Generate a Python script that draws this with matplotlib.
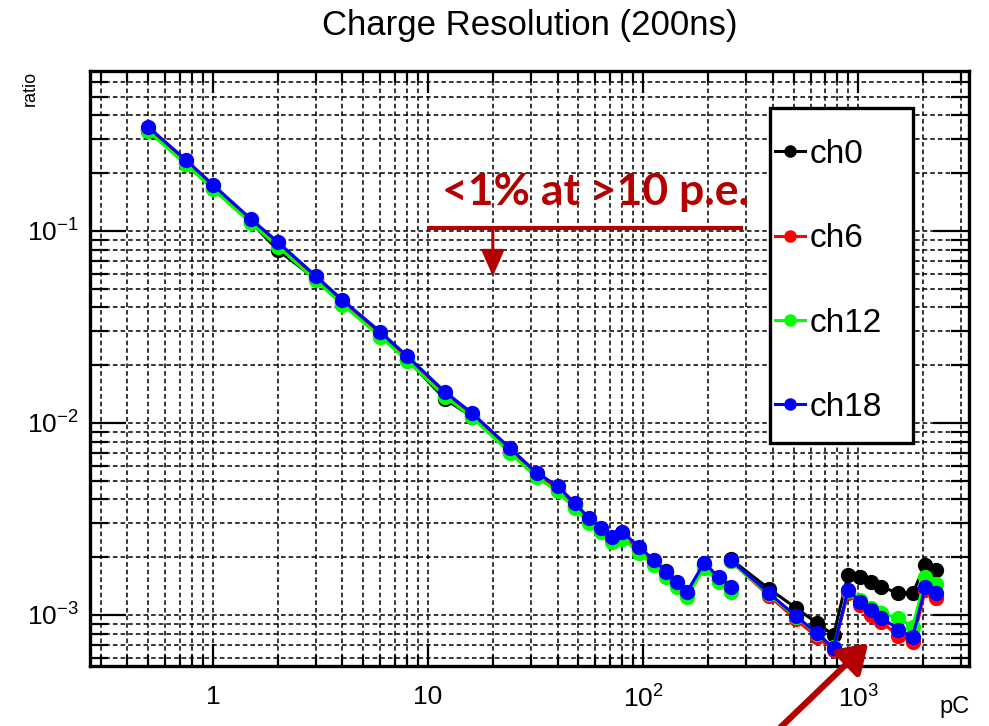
import matplotlib

matplotlib.use("Agg")
import matplotlib.pyplot as plt
import matplotlib.patches as mpatches
from matplotlib.lines import Line2D
from matplotlib.ticker import LogLocator, NullFormatter

plt.rcParams["font.family"] = ["Liberation Sans", "DejaVu Sans"]
plt.rcParams["mathtext.fontset"] = "custom"
plt.rcParams["mathtext.rm"] = "Liberation Sans"
plt.rcParams["mathtext.it"] = "Liberation Sans:italic"

# ── Data (charge in pC, resolution ratio) ────────────────────────────────────
# low range (first connected segment)
x_low = [0.5, 0.75, 1, 1.5, 2, 3, 4, 6, 8, 12, 16, 24, 32, 40, 48, 56, 64,
         72, 80, 96, 112, 128, 144, 160, 192, 224, 256]
ch0_low = [0.333, 0.224, 0.167, 0.111, 0.0796, 0.0562, 0.042, 0.0285, 0.0214,
           0.0133, 0.0108, 0.0071, 0.0053, 0.0045, 0.0037, 0.0031, 0.00275,
           0.00245, 0.0026, 0.00218, 0.00187, 0.00170, 0.00145, 0.00128,
           0.00181, 0.00153, 0.00136]
ch6_low = [0.335, 0.226, 0.168, 0.112, 0.085, 0.0565, 0.0422, 0.0287, 0.0215,
           0.0140, 0.0109, 0.0072, 0.0053, 0.0045, 0.0037, 0.0031, 0.00275,
           0.00246, 0.0026, 0.00218, 0.00187, 0.00163, 0.00144, 0.00128,
           0.00181, 0.00153, 0.00136]
ch12_low = [0.330, 0.222, 0.165, 0.110, 0.083, 0.0553, 0.0413, 0.0281, 0.0211,
            0.0137, 0.0107, 0.0070, 0.0052, 0.0044, 0.0036, 0.0030, 0.0027,
            0.0024, 0.0025, 0.0021, 0.00182, 0.00158, 0.0014, 0.00124,
            0.00176, 0.00149, 0.00132]
ch18_low = [0.348, 0.234, 0.174, 0.1155, 0.0877, 0.0584, 0.0437, 0.0298,
            0.0223, 0.0145, 0.01127, 0.00741, 0.0055, 0.0047, 0.00383, 0.0032,
            0.00284, 0.00255, 0.0027, 0.00226, 0.00193, 0.00168, 0.00149,
            0.00132, 0.00187, 0.00158, 0.0014]

# high range (second segment)
x_high = [256, 384, 512, 640, 768, 896, 1024, 1152, 1280, 1536, 1792, 2048, 2304]
ch0_high = [0.00195, 0.00137, 0.00109, 0.00091, 0.000785, 0.00162, 0.00157,
            0.00149, 0.0014, 0.0013, 0.0013, 0.00183, 0.00172]
ch6_high = [0.00190, 0.00126, 0.00095, 0.00077, 0.00066, 0.00130, 0.00113,
            0.00100, 0.00092, 0.00078, 0.00072, 0.00135, 0.00122]
ch12_high = [0.00190, 0.00128, 0.00098, 0.00080, 0.00068, 0.00134, 0.00120,
             0.00109, 0.00102, 0.00096, 0.00087, 0.00157, 0.00145]
ch18_high = [0.00193, 0.0013, 0.00099, 0.000806, 0.000673, 0.00135, 0.00117,
             0.00106, 0.00097, 0.00084, 0.00077, 0.0014, 0.0013]

channels = ["ch0", "ch6", "ch12", "ch18"]
colors = ["#000000", "#ff0000", "#00ff00", "#0000ff"]
low_vals = [ch0_low, ch6_low, ch12_low, ch18_low]
high_vals = [ch0_high, ch6_high, ch12_high, ch18_high]

ANN = "#b30000"

# ── Figure ───────────────────────────────────────────────────────────────────
fig = plt.figure(figsize=(9.89, 7.26), dpi=100)
ax = fig.add_axes([0.091, 0.0826, 0.889, 0.8194])

for name, col, lo, hi in zip(channels, colors, low_vals, high_vals):
    for xs, ys in ((x_low, lo), (x_high, hi)):
        ax.plot(xs, ys, color=col, lw=2.2, marker="o", ms=10,
                mec=col, mfc=col, zorder=3)

ax.set_xscale("log")
ax.set_yscale("log")
ax.set_xlim(0.268, 3280)
ax.set_ylim(5.42e-4, 0.68)

ax.set_xticks([1, 10, 100, 1000], labels=["1", "10", "$10^{2}$", "$10^{3}$"])
ax.set_yticks([1e-3, 1e-2, 1e-1],
              labels=["$10^{-3}$", "$10^{-2}$", "$10^{-1}$"])
ax.xaxis.set_minor_locator(LogLocator(base=10, subs=range(2, 10), numticks=20))
ax.yaxis.set_minor_locator(LogLocator(base=10, subs=range(2, 10), numticks=20))
ax.xaxis.set_minor_formatter(NullFormatter())
ax.yaxis.set_minor_formatter(NullFormatter())

ax.tick_params(which="both", direction="in", top=True, right=True,
               colors="black", width=1.6)
ax.tick_params(axis="x", which="major", length=16, labelsize=19, pad=14)
ax.tick_params(axis="x", which="minor", length=8)
ax.tick_params(axis="y", which="major", length=26, labelsize=19, pad=8)
ax.tick_params(axis="y", which="minor", length=13)
for sp in ax.spines.values():
    sp.set_linewidth(2.4)

ax.grid(True, which="both", color="black", ls=(0, (3, 2)), lw=1.1, zorder=0)

ax.set_title("Charge Resolution (200ns)", fontsize=25, pad=26)
ax.set_ylabel("ratio", fontsize=13, loc="top")
ax.yaxis.set_label_coords(-0.058, 1.0)
ax.set_xlabel("pC", fontsize=17, loc="right")
ax.xaxis.set_label_coords(1.0, -0.05)

# legend: box drawn separately so the entries can sit close to its left edge
box = mpatches.Rectangle((0.7736, 0.3748), 0.1627, 0.563,
                         transform=ax.transAxes, facecolor="white",
                         edgecolor="black", lw=2.4, zorder=5)
ax.add_patch(box)
handles = [Line2D([], [], color=c, lw=2.2, marker="o", ms=8) for c in colors]
leg = ax.legend(handles, channels, loc="upper left",
                bbox_to_anchor=(0.7795, 0.886), fontsize=24, frameon=False,
                handlelength=0.9, handletextpad=0.12, labelspacing=1.6,
                borderpad=0, borderaxespad=0)
leg.set_zorder(6)

# annotations
ax.plot([10, 290], [0.1035, 0.1035], color=ANN, lw=3, solid_capstyle="butt",
        zorder=6)
ax.annotate("", xy=(20, 0.058), xytext=(20, 0.1035),
            arrowprops=dict(arrowstyle="-|>,head_length=0.8,head_width=0.35",
                            color=ANN, lw=2.2, mutation_scale=20,
                            shrinkA=0, shrinkB=0), zorder=6)
ax.text(60, 0.1366, "<1% at >10 p.e.", color=ANN, fontsize=32,
        fontweight="bold", family=["Lato", "DejaVu Sans"],
        ha="center", va="baseline", zorder=6)
ax.annotate("", xy=(1113, 7.14e-4), xycoords="data",
            xytext=(0.783, -0.01), textcoords="figure fraction",
            annotation_clip=False,
            arrowprops=dict(arrowstyle="-|>,head_length=0.7,head_width=0.45",
                            color=ANN, lw=4.5, mutation_scale=24,
                            shrinkA=0, shrinkB=0), zorder=6)

fig.savefig("out.png", dpi=100)
